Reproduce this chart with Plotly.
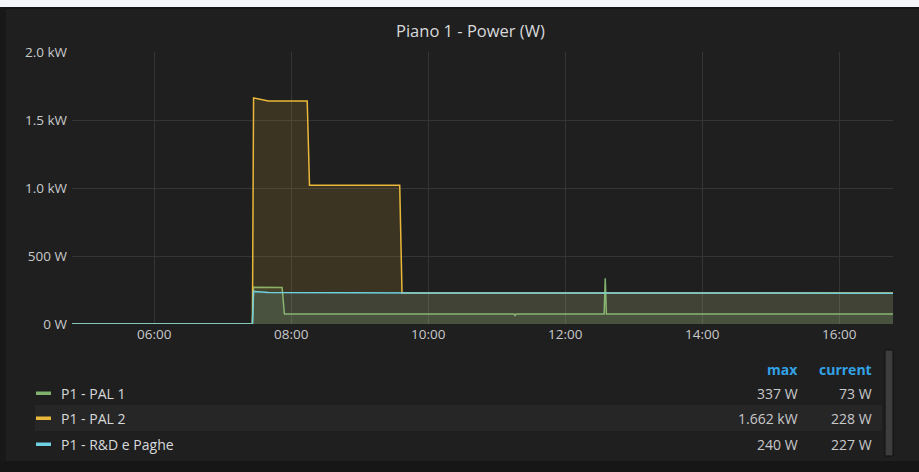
import plotly.graph_objects as go

DAY = "2018-03-15 "

# ---- data ----
pal1_times = ["04:48", "07:26", "07:27", "07:52", "07:54", "11:15", "11:16", "11:17",
              "12:34", "12:35", "12:36", "16:47"]
pal1_vals = [0, 0, 270, 268, 73, 73, 62, 73, 73, 337, 73, 73]

pal2_times = ["04:48", "07:26", "07:27", "07:40", "08:14", "08:16", "09:35", "09:37", "16:47"]
pal2_vals = [0, 0, 1662, 1640, 1640, 1020, 1020, 228, 228]

rd_times = ["04:48", "07:26", "07:27", "07:40", "10:00", "16:47"]
rd_vals = [0, 0, 240, 232, 228, 227]

series_names = ["P1 - PAL 1", "P1 - PAL 2", "P1 - R&D e Paghe"]
series_colors = ["#7EB26D", "#EAB839", "#6ED0E0"]
series_fills = ["rgba(126,178,109,0.14)", "rgba(234,184,57,0.14)", "rgba(110,208,224,0.10)"]
max_labels = ["337 W", "1.662 kW", "240 W"]
current_labels = ["73 W", "228 W", "227 W"]

y_tickvals = [0, 500, 1000, 1500, 2000]
y_ticktext = ["0 W", "500 W", "1.0 kW", "1.5 kW", "2.0 kW"]
x_ticks = ["06:00", "08:00", "10:00", "12:00", "14:00", "16:00"]

# ---- geometry ----
W, H = 919, 472
L, R, T, B = 72, 893, 52, 324


def px(x):
    return (x - L) / (R - L)


def py(y):
    return (B - y) / (B - T)


FONT = "Open Sans, Noto Sans, sans-serif"

fig = go.Figure()
all_times = [pal1_times, pal2_times, rd_times]
all_vals = [pal1_vals, pal2_vals, rd_vals]
for name, t, v, c, f in zip(series_names, all_times, all_vals, series_colors, series_fills):
    fig.add_trace(go.Scatter(
        x=[DAY + s for s in t], y=v, name=name, mode="lines",
        line=dict(color=c, width=1.5), fill="tozeroy", fillcolor=f,
        showlegend=False,
    ))

grid = "#353536"
tickfont = dict(family=FONT, size=13.5, color="#c8c9ca")

fig.update_layout(
    width=W, height=H, autosize=False,
    margin=dict(l=L, r=W - R, t=T, b=H - B),
    paper_bgcolor="#1f1f20", plot_bgcolor="#1f1f20",
    font=dict(family=FONT, color="#d8d9da"),
    xaxis=dict(
        range=[DAY + "04:48", DAY + "16:47"], type="date",
        tickvals=[DAY + s for s in x_ticks], ticktext=x_ticks,
        showgrid=True, gridcolor=grid, gridwidth=1, zeroline=False,
        showline=False, ticks="", tickfont=tickfont,
    ),
    yaxis=dict(
        range=[0, 2000], tickvals=y_tickvals, ticktext=y_ticktext,
        showgrid=True, gridcolor=grid, gridwidth=1, zeroline=False,
        showline=False, ticks="", tickfont=tickfont, ticklabelstandoff=4,
    ),
    hovermode=False,
)

shapes = []
# page surround
shapes.append(dict(type="rect", xref="paper", yref="paper", x0=px(0), x1=px(W), y0=py(0), y1=py(7),
                   fillcolor="#f4f5f8", line=dict(width=0), layer="below"))
shapes.append(dict(type="rect", xref="paper", yref="paper", x0=px(0), x1=px(W), y0=py(7), y1=py(9),
                   fillcolor="#141414", line=dict(width=0), layer="below"))
shapes.append(dict(type="rect", xref="paper", yref="paper", x0=px(0), x1=px(6), y0=py(7), y1=py(H),
                   fillcolor="#181818", line=dict(width=0), layer="below"))
shapes.append(dict(type="rect", xref="paper", yref="paper", x0=px(0), x1=px(W), y0=py(461), y1=py(H),
                   fillcolor="#161617", line=dict(width=0), layer="below"))
# legend row band
shapes.append(dict(type="rect", xref="paper", yref="paper", x0=px(35), x1=px(882), y0=py(405), y1=py(431),
                   fillcolor="#262627", line=dict(width=0), layer="below"))
# scrollbar
shapes.append(dict(type="rect", xref="paper", yref="paper", x0=px(885), x1=px(893), y0=py(350), y1=py(456),
                   fillcolor="#3d3d3e", line=dict(color="#111111", width=1), layer="above"))

annotations = []
annotations.append(dict(text="Piano 1 - Power (W)", xref="paper", yref="paper", x=px(470), y=py(30),
                        xanchor="center", yanchor="middle", showarrow=False,
                        font=dict(size=16.5, color="#d8d9da", family=FONT)))
hdr_font = dict(size=14, color="#33a2e5", family=FONT)
annotations.append(dict(text="<b>max</b>", xref="paper", yref="paper", x=px(800), y=py(369),
                        xanchor="right", yanchor="middle", showarrow=False, font=hdr_font))
annotations.append(dict(text="<b>current</b>", xref="paper", yref="paper", x=px(874), y=py(369),
                        xanchor="right", yanchor="middle", showarrow=False, font=hdr_font))
row_y = [393, 418, 444]
row_font = dict(size=14, color="#c8c9ca", family=FONT)
for i, yy in enumerate(row_y):
    shapes.append(dict(type="rect", xref="paper", yref="paper", x0=px(36), x1=px(51),
                       y0=py(yy - 1.5), y1=py(yy + 2), fillcolor=series_colors[i],
                       line=dict(width=0), layer="above"))
    annotations.append(dict(text=series_names[i], xref="paper", yref="paper", x=px(59), y=py(yy),
                            xanchor="left", yanchor="middle", showarrow=False,
                            font=dict(size=14, color="#d8d9da", family=FONT)))
    annotations.append(dict(text=max_labels[i], xref="paper", yref="paper", x=px(800), y=py(yy),
                            xanchor="right", yanchor="middle", showarrow=False, font=row_font))
    annotations.append(dict(text=current_labels[i], xref="paper", yref="paper", x=px(874), y=py(yy),
                            xanchor="right", yanchor="middle", showarrow=False, font=row_font))

fig.update_layout(shapes=shapes, annotations=annotations)
fig.write_html(
    "out.html",
    config={"displayModeBar": False},
    post_script="document.body.style.margin='0';document.body.style.overflow='hidden';",
)
